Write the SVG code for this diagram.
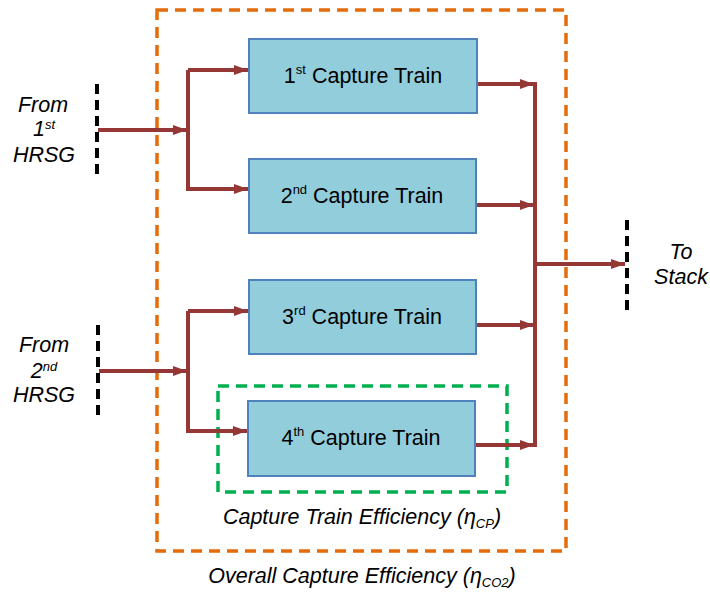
<svg xmlns="http://www.w3.org/2000/svg" width="710" height="594" viewBox="0 0 710 594">
<style>
.box{fill:#92CDDC;stroke:#4F81BD;stroke-width:2}
.lbl{font-family:"Liberation Sans",Arial,sans-serif;font-size:21.5px;fill:#000;text-anchor:middle}
.it{font-family:"Liberation Sans",Arial,sans-serif;font-size:21.5px;font-style:italic;fill:#000;text-anchor:middle}
.side{font-size:21.5px}
.sup{font-size:13px}
.conn{stroke:#953735;stroke-width:4;fill:none}
.bd{stroke:#000;stroke-width:4;stroke-dasharray:10,6;fill:none}
</style>
<defs>
<marker id="ah" markerWidth="5" markerHeight="4" refX="3.6" refY="2" orient="auto" markerUnits="strokeWidth">
<path d="M0,0.7 L3.6,2 L0,3.3 Z" fill="#953735"/>
</marker>
</defs>
<rect id="overall" x="157" y="10" width="409" height="541" fill="none" stroke="#E46C0A" stroke-width="3.5" stroke-dasharray="11,7"/>
<rect id="train-eff" x="218" y="386" width="289" height="106" fill="none" stroke="#00B050" stroke-width="3.5" stroke-dasharray="11,7"/>
<g id="connectors">
<line class="bd" x1="97" y1="84" x2="97" y2="175"/>
<line class="bd" x1="98" y1="325" x2="98" y2="416"/>
<line class="bd" x1="627" y1="220" x2="627" y2="311"/>
<path class="conn" d="M98,130 H187" marker-end="url(#ah)"/>
<path class="conn" d="M188,70 V189 H248" marker-end="url(#ah)"/>
<path class="conn" d="M188,70 H248" marker-end="url(#ah)"/>
<path class="conn" d="M99,371 H187" marker-end="url(#ah)"/>
<path class="conn" d="M188,311 V431 H247" marker-end="url(#ah)"/>
<path class="conn" d="M188,311 H248" marker-end="url(#ah)"/>
<path class="conn" d="M477,84 H534" marker-end="url(#ah)"/>
<path class="conn" d="M476,205 H534" marker-end="url(#ah)"/>
<path class="conn" d="M476,325 H534" marker-end="url(#ah)"/>
<path class="conn" d="M476,445 H534" marker-end="url(#ah)"/>
<path class="conn" d="M535,82 V447"/>
<path class="conn" d="M535,264 H625" marker-end="url(#ah)"/>
</g>
<g id="train1"><rect class="box" x="249" y="39" width="228" height="74"/><text class="lbl" x="363" y="83">1<tspan class="sup" dy="-9">st</tspan><tspan dy="9"> Capture Train</tspan></text></g>
<g id="train2"><rect class="box" x="249" y="159" width="227" height="74"/><text class="lbl" x="362" y="203">2<tspan class="sup" dy="-9">nd</tspan><tspan dy="9"> Capture Train</tspan></text></g>
<g id="train3"><rect class="box" x="249" y="280" width="227" height="74"/><text class="lbl" x="362" y="324">3<tspan class="sup" dy="-9">rd</tspan><tspan dy="9"> Capture Train</tspan></text></g>
<g id="train4"><rect class="box" x="248" y="401" width="227" height="75"/><text class="lbl" x="361" y="445">4<tspan class="sup" dy="-9">th</tspan><tspan dy="9"> Capture Train</tspan></text></g>
<g id="from1"><text class="it side" x="43" y="112">From</text><text class="it side" x="44" y="136">1<tspan class="sup" dy="-7">st</tspan></text><text class="it side" x="44" y="162">HRSG</text></g>
<g id="from2"><text class="it side" x="44" y="352">From</text><text class="it side" x="44" y="378">2<tspan class="sup" dy="-7">nd</tspan></text><text class="it side" x="44" y="402">HRSG</text></g>
<g id="stack"><text class="it side" x="681" y="259">To</text><text class="it side" x="681" y="284">Stack</text></g>
<text class="it" x="362" y="524">Capture Train Efficiency (η<tspan class="sup" dy="4">CP</tspan><tspan dy="-4">)</tspan></text>
<text class="it" x="362" y="583">Overall Capture Efficiency (η<tspan class="sup" dy="4">CO2</tspan><tspan dy="-4">)</tspan></text>
</svg>
